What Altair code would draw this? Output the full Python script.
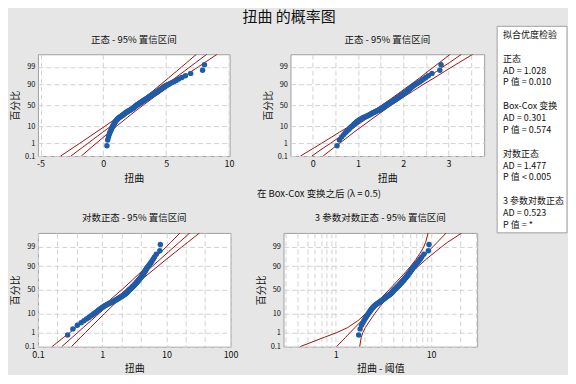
import altair as alt
import pandas as pd
from statistics import NormalDist

# ---------------- data ----------------
warp = [0.29, 0.35, 0.41, 0.47, 0.52, 0.57, 0.62, 0.66, 0.70, 0.74,
        0.78, 0.82, 0.85, 0.88, 0.92, 0.95, 0.99, 1.03, 1.07, 1.12,
        1.16, 1.21, 1.27, 1.33, 1.39, 1.45, 1.50, 1.56, 1.61, 1.66,
        1.71, 1.76, 1.81, 1.86, 1.91, 1.97, 2.03, 2.09, 2.15, 2.20,
        2.26, 2.32, 2.37, 2.40, 2.44, 2.48, 2.52, 2.56, 2.59, 2.63,
        2.68, 2.73, 2.78, 2.83, 2.88, 2.93, 2.98, 3.03, 3.08, 3.13,
        3.18, 3.23, 3.28, 3.34, 3.39, 3.44, 3.50, 3.55, 3.61, 3.66,
        3.72, 3.78, 3.84, 3.90, 3.96, 4.02, 4.09, 4.15, 4.22, 4.29,
        4.35, 4.42, 4.49, 4.57, 4.64, 4.72, 4.81, 4.89, 4.98, 5.12,
        5.27, 5.43, 5.61, 5.80, 6.00, 6.25, 6.53, 6.95, 7.90, 8.05]
threshold = -1.45  # 3-parameter lognormal threshold

# percent positions of the fitted line / 95% bands
pct = [0.1, 0.5, 1, 2, 5, 10, 20, 30, 50, 70, 80, 90, 95, 98, 99, 99.5, 99.9]

n_lo = [-3.40, -2.39, -1.90, -1.37, -0.58, 0.12, 0.96, 1.55, 2.49, 3.38, 3.91, 4.61, 5.18, 5.82, 6.24, 6.63, 7.41]
n_fit = [-2.58, -1.68, -1.24, -0.77, -0.05, 0.59, 1.36, 1.91, 2.83, 3.75, 4.30, 5.07, 5.71, 6.43, 6.90, 7.34, 8.24]
n_hi = [-1.75, -0.97, -0.58, -0.16, 0.48, 1.05, 1.76, 2.28, 3.17, 4.11, 4.70, 5.54, 6.24, 7.03, 7.56, 8.05, 9.06]

bc_lo = [-0.27, 0.04, 0.19, 0.35, 0.59, 0.81, 1.06, 1.24, 1.53, 1.80, 1.96, 2.18, 2.36, 2.55, 2.68, 2.80, 3.04]
bc_fit = [-0.02, 0.25, 0.39, 0.53, 0.75, 0.95, 1.18, 1.35, 1.64, 1.92, 2.09, 2.32, 2.52, 2.74, 2.88, 3.02, 3.29]
bc_hi = [0.23, 0.47, 0.59, 0.72, 0.91, 1.09, 1.31, 1.47, 1.74, 2.03, 2.21, 2.46, 2.68, 2.92, 3.08, 3.23, 3.54]

ln_lo = [0.165, 0.253, 0.312, 0.391, 0.548, 0.736, 1.050, 1.352, 2.014, 2.944, 3.673, 4.966, 6.324, 8.279, 9.908, 11.69, 16.33]
ln_fit = [0.234, 0.343, 0.413, 0.506, 0.685, 0.897, 1.245, 1.578, 2.328, 3.436, 4.355, 6.039, 7.907, 10.72, 13.12, 15.81, 23.17]
ln_hi = [0.332, 0.463, 0.547, 0.655, 0.857, 1.094, 1.476, 1.845, 2.692, 4.018, 5.164, 7.362, 9.886, 13.87, 17.38, 21.43, 32.89]

ln3_lo = [0.42, 0.76, 1.02, 1.33, 1.74, 2.06, 2.50, 2.88, 3.62, 4.50, 5.15, 6.10, 6.90, 7.80, 8.35, 8.75, 9.30]
ln3_fit = [1.017, 1.268, 1.411, 1.586, 1.890, 2.209, 2.668, 3.058, 3.828, 4.792, 5.494, 6.633, 7.753, 9.242, 10.38, 11.56, 14.41]
ln3_hi = [1.78, 1.85, 1.92, 2.04, 2.30, 2.57, 2.98, 3.35, 4.11, 5.15, 5.95, 7.35, 8.80, 11.0, 12.8, 14.8, 21.0]

tick_pct = [0.1, 1, 10, 50, 90, 99, 99.9]

legend_rows = [0, 2, 3, 4, 6, 7, 8, 10, 11, 12, 14, 15, 16]
legend_text = ["拟合优度检验",
               "正态", "AD = 1.028", "P 值 = 0.010",
               "Box-Cox 变换", "AD = 0.301", "P 值 = 0.574",
               "对数正态", "AD = 1.477", "P 值 < 0.005",
               "3 参数对数正态", "AD = 0.523", "P 值 = *"]
legend_box = {"x0": [0], "x1": [1], "k0": [-0.73], "k1": [16.66]}

# ---------------- styling ----------------
BG = "#e6e6e6"
BLUE = "#1f5ca8"
RED = "#a01212"
GRID = "#d2d2d2"
FONT = "Noto Sans CJK SC"

nd = NormalDist()
tick_z = [nd.inv_cdf(p / 100) for p in tick_pct]
zlim = nd.inv_cdf(0.999)

pts = pd.DataFrame({"v": warp})


def bands(lo, fit, hi):
    rows = []
    for name, arr in (("lo", lo), ("fit", fit), ("hi", hi)):
        for p, x in zip(pct, arr):
            rows.append({"curve": name, "p": p, "x": x})
    return pd.DataFrame(rows)


yaxis = alt.Axis(values=tick_z,
                 labelExpr="format(cumulativeNormal(datum.value) * 100, '.3~r')",
                 title="百分比", grid=True, gridColor=GRID, gridDash=[5, 3],
                 domain=False, ticks=False, labelPadding=3, labelFontSize=7.5,
                 titleFontSize=10, titlePadding=4, titleFontWeight="normal",
                 labelColor="#111", titleColor="#111")


def x_axis(values, label_test, title):
    return alt.Axis(values=values, title=title, format="~r", orient="bottom",
                    labelExpr=f"({label_test}) ? replace(datum.label, '\u2212', '-') : ''",
                    grid=True, gridColor=GRID, gridDash=[5, 3], domain=False,
                    ticks=False, labelPadding=3.5, labelFontSize=9, titleFontSize=10,
                    titlePadding=4.5, titleFontWeight="normal", labelFlush=False,
                    labelOverlap=False, labelColor="#111", titleColor="#111")


def panel(title, lines_df, xexpr, scale, axis, w, h, note_axis=None):
    y = alt.Y("z:Q", scale=alt.Scale(domain=[-zlim, zlim], nice=False, zero=False), axis=yaxis)
    lines = (alt.Chart(lines_df)
             .transform_calculate(z="quantileNormal(datum.p / 100)")
             .mark_line(color=RED, strokeWidth=1, clip=True)
             .encode(x=alt.X("x:Q", scale=scale, axis=axis), y=y, detail="curve:N", order="p:Q"))
    if note_axis is not None:
        dot_x = alt.X("x:Q", scale=scale, axis=note_axis)
    else:
        dot_x = alt.X("x:Q", scale=scale)
    dots = (alt.Chart(pts)
            .transform_window(r="row_number()", sort=[alt.SortField("v", order="ascending")])
            .transform_joinaggregate(n="count()")
            .transform_calculate(z="quantileNormal((datum.r - 0.3) / (datum.n + 0.4))", x=xexpr)
            .mark_circle(size=30, color=BLUE, opacity=1)
            .encode(x=dot_x, y=y))
    ch = alt.layer(lines, dots).properties(
        width=w, height=h,
        title=alt.TitleParams(title, fontSize=9.5, fontWeight="normal", offset=10, anchor="middle"))
    if note_axis is not None:
        ch = ch.resolve_axis(x="independent")
    return ch


boxcox_note = alt.Axis(title="在 Box-Cox 变换之后 (λ = 0.5)", orient="bottom", labels=False,
                       ticks=False, domain=False, grid=False, titleX=28, titleY=38,
                       titleAlign="center", titleBaseline="middle", titleFontSize=9.5,
                       titleFontWeight="normal", titleColor="#111")

p1 = panel("正态 - 95% 置信区间", bands(n_lo, n_fit, n_hi), "datum.v",
           alt.Scale(domain=[-5.2, 10.05], nice=False, zero=False),
           x_axis([-5, -2.5, 0, 2.5, 5, 7.5, 10], "datum.value % 5 == 0", "扭曲"), 192, 102)
p2 = panel("正态 - 95% 置信区间", bands(bc_lo, bc_fit, bc_hi), "sqrt(datum.v)",
           alt.Scale(domain=[-0.49, 3.79], nice=False, zero=False),
           x_axis([0, 0.5, 1, 1.5, 2, 2.5, 3, 3.5], "datum.value % 1 == 0", "扭曲"), 194, 102,
           note_axis=boxcox_note)
p3 = panel("对数正态 - 95% 置信区间", bands(ln_lo, ln_fit, ln_hi), "datum.v",
           alt.Scale(type="log", domain=[0.1, 100], nice=False),
           x_axis([0.1, 0.2, 0.4, 1, 2, 4, 10, 20, 40, 100],
                  "indexof([0.1, 1, 10, 100], datum.value) >= 0", "扭曲"), 193, 114)
p4 = panel("3 参数对数正态 - 95% 置信区间", bands(ln3_lo, ln3_fit, ln3_hi),
           f"datum.v - ({threshold})",
           alt.Scale(type="log", domain=[0.283, 30.4], nice=False),
           x_axis([0.3, 0.4, 0.5, 0.6, 0.7, 0.8, 0.9, 1, 2, 3, 4, 5, 6, 7, 8, 9, 10, 20, 30],
                  "datum.value == 1 || datum.value == 10", "扭曲 - 阈值"), 194, 114)

row1 = alt.hconcat(p1, p2, spacing=21)
row2 = alt.hconcat(p3, p4, spacing=17)
grid = alt.vconcat(row1, row2, spacing=14)

leg_y = alt.Scale(domain=[1.623, 19.02], reverse=True, nice=False, zero=False)
leg_x = alt.Scale(domain=[0, 1], nice=False, zero=False)
box = (alt.Chart(pd.DataFrame(legend_box))
       .mark_rect(fill="white", stroke="#a0a0a0", strokeWidth=1)
       .encode(x=alt.X("x0:Q", scale=leg_x, axis=None), x2="x1:Q",
               y=alt.Y("k0:Q", scale=leg_y, axis=None), y2="k1:Q"))
texts = (alt.Chart(pd.DataFrame({"k": legend_rows, "t": legend_text}))
         .mark_text(align="left", baseline="middle", fontSize=9, color="#111")
         .encode(x=alt.value(6), y=alt.Y("k:Q", scale=leg_y, axis=None), text="t:N"))
legend = (alt.layer(box, texts)
          .properties(width=70, height=207,
                      view=alt.ViewBackground(fill="transparent", stroke="transparent")))

chart = (alt.hconcat(grid, legend, spacing=11)
         .properties(padding={"top": 2, "left": 2, "right": 0, "bottom": 0},
                     title=alt.TitleParams("扭曲 的概率图", anchor="middle", fontSize=15,
                                           fontWeight="normal", offset=0))
         .configure(background=BG, font=FONT)
         .configure_view(fill="white", stroke="#a0a0a0", strokeWidth=1)
         .configure_title(color="#111"))

chart.save("out.html", embed_options={"renderer": "svg", "actions": False})
